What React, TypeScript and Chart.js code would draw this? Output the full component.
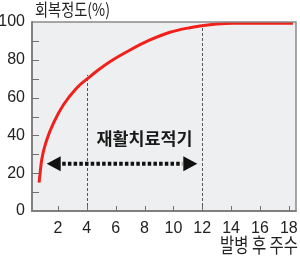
import React, { useEffect, useRef } from "react";
import { Chart, registerables } from "chart.js";

Chart.register(...registerables);

// ---- data ----
const weeks = [0.69, 0.87, 1.22, 1.79, 2.37, 3.3, 4.22, 4.79, 5.6, 7.0, 8.38, 9.76, 11.15, 11.96, 13.0, 14.13, 16.0, 18.29];
const recovery = [15, 27, 37.6, 48.1, 56.1, 65.1, 71.1, 74.6, 79.0, 85.2, 90.5, 94.6, 97.0, 98.0, 98.9, 99.3, 99.3, 99.3];

const xTicks = [2, 4, 6, 8, 10, 12, 14, 16, 18];
const yTicks = [0, 20, 40, 60, 80, 100];
const yMinorTicks = [10, 20, 30, 40, 50, 60, 70, 80, 90];

const markerWeeks = [4, 12];
const markerLevels = [72, 98];

const windowStart = 1.22;
const windowEnd = 11.66;
const windowLevel = 25;
const windowLabelWeek = 8.0;
const windowLabelLevel = 38.5;

const yTitle = "회복정도(%)";
const xTitle = "발병 후 주수";
const windowLabel = "재활치료적기";

const NUM_FONT = "'Liberation Sans Narrow', 'Liberation Sans', Arial, sans-serif";
const KR_FONT = "'Noto Sans CJK KR', 'Noto Sans', sans-serif";

function fitText(ctx: CanvasRenderingContext2D, text: string, x: number, y: number, font: string, width: number, align: CanvasTextAlign) {
  ctx.save();
  ctx.font = font;
  const w = ctx.measureText(text).width;
  const sx = w > 0 ? width / w : 1;
  ctx.translate(x, y);
  ctx.scale(sx, 1);
  ctx.textAlign = align;
  ctx.textBaseline = "middle";
  ctx.fillText(text, 0, 0);
  ctx.restore();
}

const overlay = {
  id: "overlay",
  beforeDraw(chart: any) {
    const { ctx, chartArea: a } = chart;
    ctx.save();
    ctx.fillStyle = "#eeeff0";
    ctx.fillRect(a.left, a.top, a.right - a.left, a.bottom - a.top);
    ctx.restore();
  },
  beforeDatasetsDraw(chart: any) {
    const { ctx, chartArea: a } = chart;
    const xs = chart.scales.x;
    const ys = chart.scales.y;
    ctx.save();
    ctx.strokeStyle = "#555";
    ctx.lineWidth = 1;
    ctx.setLineDash([3, 2]);
    markerWeeks.forEach((w, i) => {
      const x = Math.round(xs.getPixelForValue(w)) + 0.5;
      ctx.beginPath();
      ctx.moveTo(x, a.bottom);
      ctx.lineTo(x, ys.getPixelForValue(markerLevels[i]));
      ctx.stroke();
    });
    ctx.restore();
  },
  afterDraw(chart: any) {
    const { ctx, chartArea: a } = chart;
    const xs = chart.scales.x;
    const ys = chart.scales.y;
    ctx.save();
    // frame
    ctx.strokeStyle = "#8a8a8a";
    ctx.lineWidth = 1.5;
    ctx.beginPath();
    ctx.moveTo(a.left, a.top);
    ctx.lineTo(a.right, a.top);
    ctx.lineTo(a.right, a.bottom);
    ctx.stroke();
    ctx.strokeStyle = "#808080";
    ctx.lineWidth = 2;
    ctx.beginPath();
    ctx.moveTo(a.left, a.top - 0.75);
    ctx.lineTo(a.left, a.bottom);
    ctx.lineTo(a.right + 0.75, a.bottom);
    ctx.stroke();
    // inside ticks
    ctx.strokeStyle = "#707070";
    ctx.lineWidth = 1;
    yMinorTicks.forEach((v) => {
      const y = Math.round(ys.getPixelForValue(v)) + 0.5;
      ctx.beginPath();
      ctx.moveTo(a.left, y);
      ctx.lineTo(a.left + 7, y);
      ctx.stroke();
    });
    xTicks.forEach((v) => {
      const x = Math.round(xs.getPixelForValue(v)) + 0.5;
      ctx.beginPath();
      ctx.moveTo(x, a.bottom);
      ctx.lineTo(x, a.bottom - 5);
      ctx.stroke();
    });
    // double arrow
    const y = ys.getPixelForValue(windowLevel);
    const x1 = xs.getPixelForValue(windowStart);
    const x2 = xs.getPixelForValue(windowEnd);
    const head = 14;
    const half = 7.5;
    ctx.fillStyle = "#111";
    ctx.beginPath();
    ctx.moveTo(x1, y);
    ctx.lineTo(x1 + head, y - half);
    ctx.lineTo(x1 + head, y + half);
    ctx.closePath();
    ctx.fill();
    ctx.beginPath();
    ctx.moveTo(x2, y);
    ctx.lineTo(x2 - head, y - half);
    ctx.lineTo(x2 - head, y + half);
    ctx.closePath();
    ctx.fill();
    ctx.strokeStyle = "#111";
    ctx.lineWidth = 4;
    ctx.setLineDash([3.5, 2.2]);
    ctx.beginPath();
    ctx.moveTo(x1 + head + 1.5, y);
    ctx.lineTo(x2 - head - 1, y);
    ctx.stroke();
    ctx.setLineDash([]);
    // texts
    ctx.fillStyle = "#1a1a1a";
    fitText(ctx, windowLabel, xs.getPixelForValue(windowLabelWeek), ys.getPixelForValue(windowLabelLevel), `bold 17px ${KR_FONT}`, 96, "center");
    ctx.fillStyle = "#222";
    fitText(ctx, yTitle, a.left + 3, 10, `17px ${KR_FONT}`, 75, "left");
    fitText(ctx, xTitle, 298, 245, `20px ${KR_FONT}`, 78, "right");
    ctx.restore();
  },
};

export default function App() {
  const ref = useRef<HTMLCanvasElement | null>(null);
  useEffect(() => {
    const canvas = ref.current;
    if (!canvas) return;
    const chart = new Chart(canvas, {
      type: "line",
      data: {
        datasets: [
          {
            data: weeks.map((w, i) => ({ x: w, y: recovery[i] })),
            borderColor: "#f2201a",
            borderWidth: 3,
            pointRadius: 0,
            cubicInterpolationMode: "monotone",
            fill: false,
          },
        ],
      },
      options: {
        responsive: false,
        animation: false,
        devicePixelRatio: 1,
        layout: { padding: { top: 22, right: 4, left: 0, bottom: 0 } },
        plugins: { legend: { display: false }, tooltip: { enabled: false } },
        scales: {
          x: {
            type: "linear",
            min: 0.2,
            max: 18.5,
            grid: { display: false, drawTicks: false },
            border: { display: false },
            ticks: { autoSkip: false, maxRotation: 0, padding: 8, color: "#222", font: { family: NUM_FONT, size: 16 } },
            afterBuildTicks: (s: any) => {
              s.ticks = xTicks.map((v) => ({ value: v }));
            },
            afterFit: (s: any) => {
              s.height = 45;
              s.paddingLeft = 0;
              s.paddingRight = 0;
            },
          },
          y: {
            type: "linear",
            min: 0,
            max: 100,
            grid: { display: false, drawTicks: false },
            border: { display: false },
            ticks: { padding: 7, color: "#222", font: { family: NUM_FONT, size: 16 } },
            afterBuildTicks: (s: any) => {
              s.ticks = yTicks.map((v) => ({ value: v }));
            },
            afterFit: (s: any) => {
              s.width = 32;
              s.paddingTop = 0;
              s.paddingBottom = 0;
            },
          },
        },
      },
      plugins: [overlay],
    } as any);
    return () => chart.destroy();
  }, []);
  return (
    <div style={{ position: "absolute", left: 0, top: 0, width: 300, height: 256, background: "#fff" }}>
      <canvas ref={ref} width={300} height={256} style={{ display: "block" }} />
    </div>
  );
}
